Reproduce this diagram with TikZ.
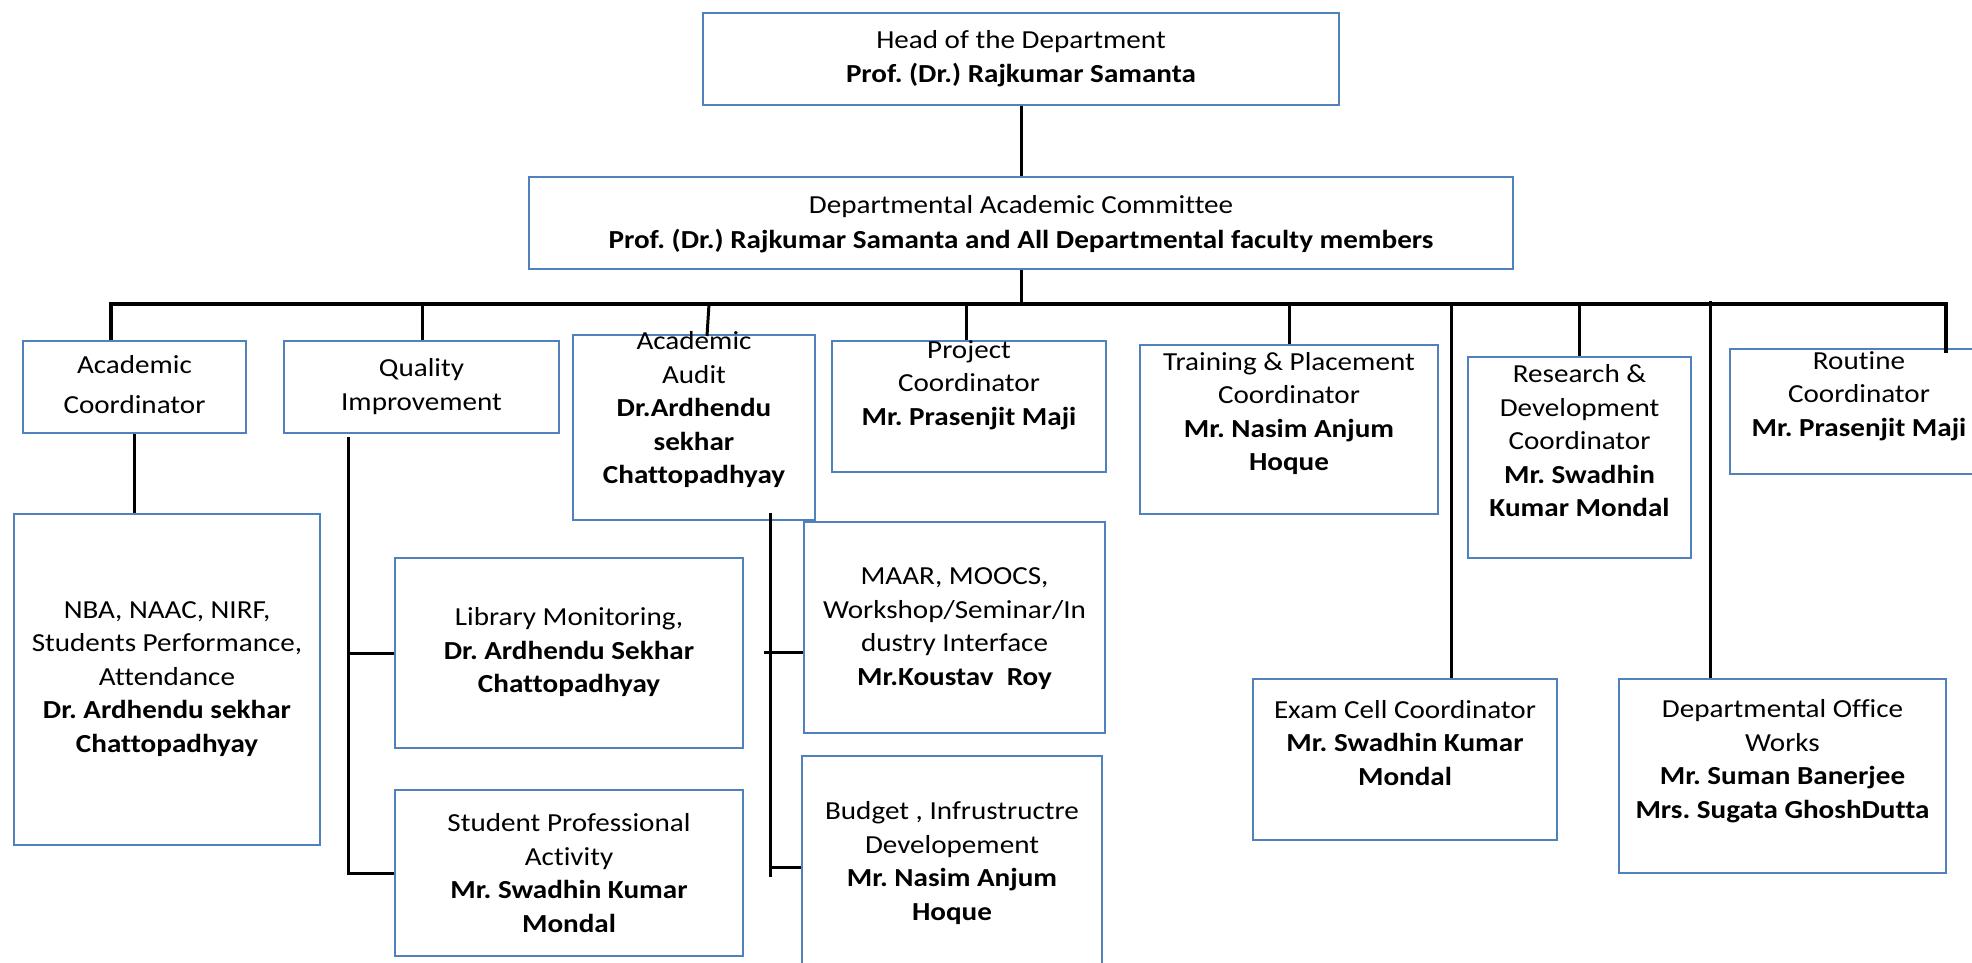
\documentclass[tikz,border=0pt]{standalone}
\usepackage{fontspec}
\setmainfont{Carlito}[FakeStretch=1.12, Ligatures=NoCommon]
\definecolor{boxblue}{RGB}{79,129,189}
\frenchspacing
\begin{document}
\begin{tikzpicture}[x=1pt,y=-1pt,
  box/.style={draw=boxblue, line width=1.8pt, rectangle, inner sep=0pt},
  txt/.style={align=center, inner sep=0pt, font=\fontsize{26}{33.5}\selectfont},
  conn/.style={draw=black, line width=3pt},
  busline/.style={draw=black, line width=3.6pt, line join=miter}]
\useasboundingbox (0,0) rectangle (1972,963);
% boxes
\node[box, minimum width=636, minimum height=92] (head) at (1021,59) {};
\node[box, minimum width=984, minimum height=92] (comm) at (1021,223) {};
\node[box, minimum width=223, minimum height=92] (ac) at (134.5,387) {};
\node[box, minimum width=275, minimum height=92] (qi) at (421.5,387) {};
\node[box, minimum width=242, minimum height=185] (aa) at (694,427.5) {};
\node[box, minimum width=274, minimum height=131] (pc) at (969,406.5) {};
\node[box, minimum width=298, minimum height=169] (tp) at (1289,429.5) {};
\node[box, minimum width=223, minimum height=201] (rd) at (1579.5,457.5) {};
\node[box, minimum width=258, minimum height=125] (rc) at (1859,411.5) {};
\node[box, minimum width=306, minimum height=331] (nba) at (167,679.5) {};
\node[box, minimum width=348, minimum height=190] (lib) at (569,653) {};
\node[box, minimum width=348, minimum height=166] (sp) at (569,873) {};
\node[box, minimum width=301, minimum height=211] (maar) at (954.5,627.5) {};
\node[box, minimum width=300, minimum height=214] (bud) at (952,863) {};
\node[box, minimum width=304, minimum height=161] (ex) at (1405,759.5) {};
\node[box, minimum width=327, minimum height=194] (do) at (1782.5,776) {};
% texts
\node[txt] (headT) at (1021,58.5) {Head of the Department\\\textbf{Prof. (Dr.) Rajkumar Samanta}};
\node[txt, font=\fontsize{26}{35}\selectfont] (commT) at (1021,224) {Departmental Academic Committee\\\textbf{Prof. (Dr.) Rajkumar Samanta and All Departmental faculty members}};
\node[txt, font=\fontsize{26}{40}\selectfont] (acT) at (134.5,385) {Academic\\Coordinator};
\node[txt] (qiT) at (421.5,386.5) {Quality\\Improvement};
\node[txt] (aaT) at (694,410) {Academic\\Audit\\\textbf{Dr.Ardhendu}\\\textbf{sekhar}\\\textbf{Chattopadhyay}};
\node[txt] (pcT) at (969,385) {Project\\Coordinator\\\textbf{Mr. Prasenjit Maji}};
\node[txt] (tpT) at (1289,413.5) {Training \& Placement\\Coordinator\\\textbf{Mr. Nasim Anjum}\\\textbf{Hoque}};
\node[txt] (rdT) at (1579.5,441) {Research \&\\Development\\Coordinator\\\textbf{Mr. Swadhin}\\\textbf{Kumar Mondal}};
\node[txt] (rcT) at (1859,396) {Routine\\Coordinator\\\textbf{Mr. Prasenjit Maji}};
\node[txt] (nbaT) at (167,679) {NBA, NAAC, NIRF,\\Students Performance,\\Attendance\\\textbf{Dr. Ardhendu sekhar}\\\textbf{Chattopadhyay}};
\node[txt] (libT) at (569,652.5) {Library Monitoring,\\\textbf{Dr. Ardhendu Sekhar}\\\textbf{Chattopadhyay}};
\node[txt] (spT) at (569,873) {Student Professional\\Activity\\\textbf{Mr. Swadhin Kumar}\\\textbf{Mondal}};
\node[txt] (maarT) at (954.5,628.5) {MAAR, MOOCS,\\Workshop/Seminar/In\\dustry Interface\\\textbf{Mr.Koustav\ \ Roy}};
\node[txt] (budT) at (952,863) {Budget , Infrustructre\\Developement\\\textbf{Mr. Nasim Anjum}\\\textbf{Hoque}};
\node[txt] (exT) at (1405,743) {Exam Cell Coordinator\\\textbf{Mr. Swadhin Kumar}\\\textbf{Mondal}};
\node[txt] (doT) at (1782.5,761) {Departmental Office\\Works\\\textbf{Mr. Suman Banerjee}\\\textbf{Mrs. Sugata GhoshDutta}};
% coordinates
\coordinate (busC) at (1021,304);
\coordinate (bAC) at (111,304);
\coordinate (bQI) at (422,304);
\coordinate (bAA) at (709,304);
\coordinate (aaTop) at (707,336);
\coordinate (bPC) at (966,304);
\coordinate (bTP) at (1289,304);
\coordinate (bEX) at (1451,304);
\coordinate (bRD) at (1579.5,304);
\coordinate (bDO) at (1710,301);
\coordinate (bRC) at (1946,304);
\coordinate (rcEnd) at (1946,353);
\coordinate (qiV) at (348,437);
\coordinate (aaV) at (770,513);
\coordinate (aaB) at (770,877);
\coordinate (mT) at (764,652);
\coordinate (bT) at (770,867);
% connectors
\draw[conn] (head.south) -- (comm.north);
\draw[conn] (comm.south) -- (busC);
\draw[busline] (bAC |- ac.north) -- (bAC) -- (bRC) -- (rcEnd);
\draw[conn] (bQI) -- (bQI |- qi.north);
\draw[conn] (bAA) -- (aaTop);
\draw[conn] (bPC) -- (bPC |- pc.north);
\draw[conn] (bTP) -- (tp.north);
\draw[conn] (bEX) -- (bEX |- ex.north);
\draw[conn] (bRD) -- (rd.north);
\draw[conn] (bDO) -- (bDO |- do.north);
\draw[conn] (ac.south -| acT) -- (acT |- nba.north);
\draw[conn] (qiV) |- (sp.west);
\draw[conn] (qiV |- lib.west) -- (lib.west);
\draw[conn] (aaV) -- (aaB);
\draw[conn] (mT) -- (mT -| maar.west);
\draw[conn] (bT) -- (bT -| bud.west);
\end{tikzpicture}
\end{document}
